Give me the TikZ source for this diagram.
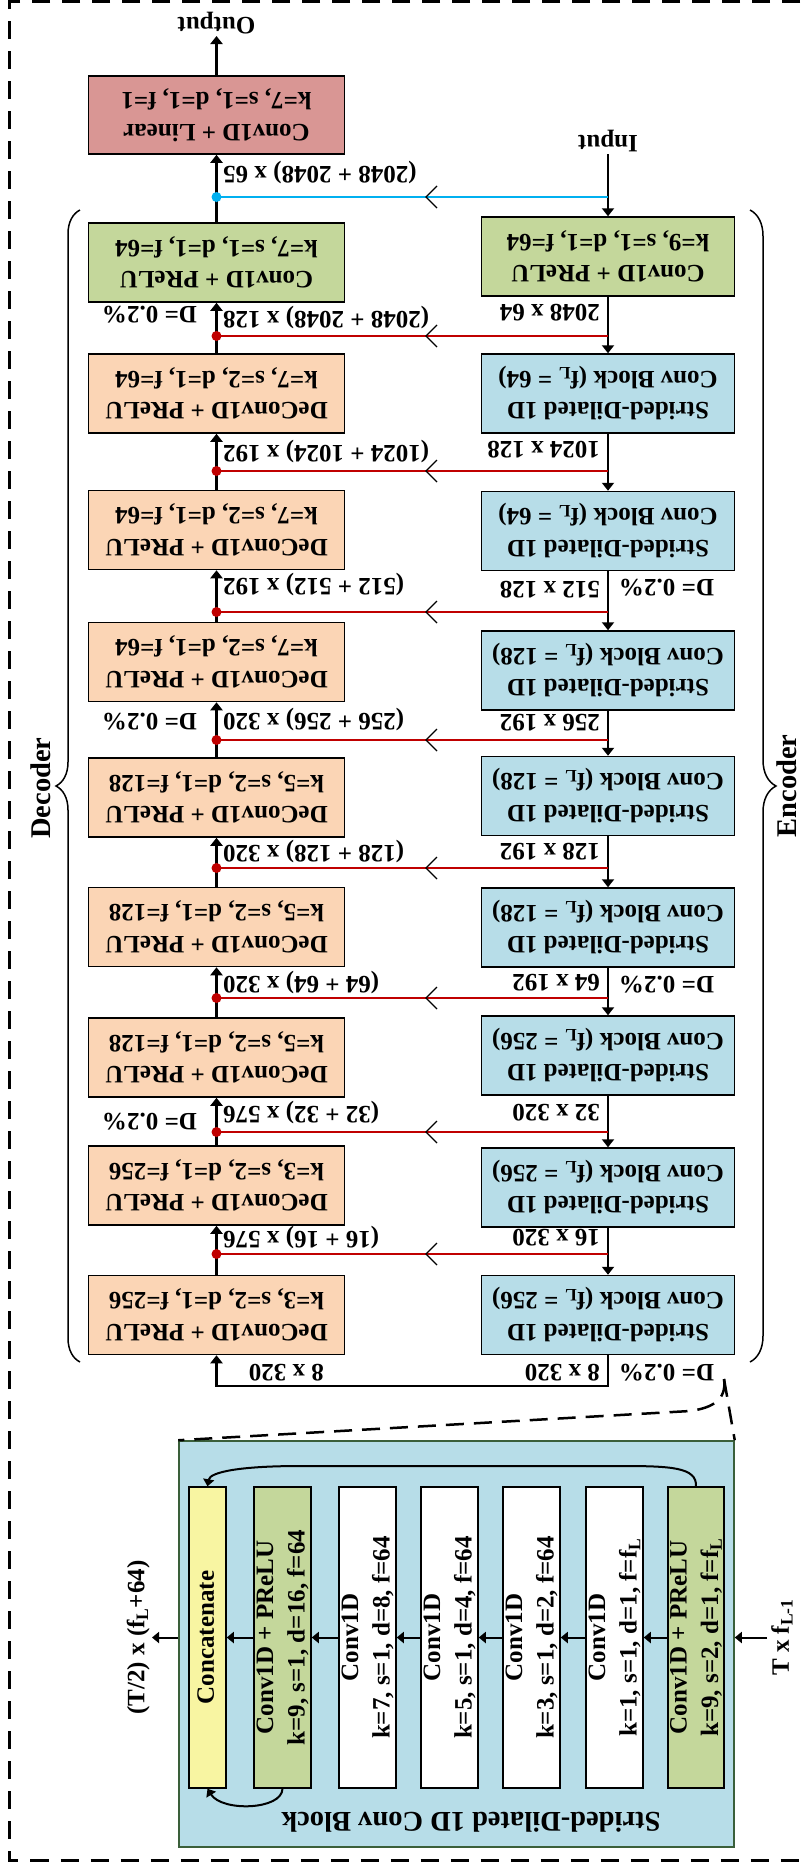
\documentclass[tikz,border=0pt]{standalone}
\usepackage{fontspec}
\setmainfont{Liberation Serif}
\usepackage{graphicx}
\usetikzlibrary{arrows.meta,decorations.pathreplacing}

\definecolor{boxgreen}{HTML}{C4D79B}
\definecolor{boxpeach}{HTML}{FBD5B5}
\definecolor{boxblue}{HTML}{B7DDE8}
\definecolor{boxpink}{HTML}{D99694}
\definecolor{boxyellow}{HTML}{F8F5A2}
\definecolor{skipred}{HTML}{C00000}
\definecolor{skipblue}{HTML}{00B0F0}
\definecolor{blockedge}{HTML}{3A5F3A}

% upside-down two-line box text
\newcommand{\updn}[1]{\rotatebox[origin=c]{180}{\begin{tabular}{@{}c@{}}#1\end{tabular}}}
% upside-down single-line label
\newcommand{\flip}[1]{\rotatebox[origin=c]{180}{#1}}
% text reading upwards, taking no width of its own
\newcommand{\vup}[1]{\makebox[0pt]{\rotatebox[origin=c]{90}{\begin{tabular}{@{}c@{}}#1\end{tabular}}}}
\newcommand{\fLsub}{f\textsubscript{L}}

\begin{document}
\begin{tikzpicture}[x=1pt,y=-1pt,
  font=\fontsize{25}{31.5}\selectfont\bfseries,
  layer/.style={draw=black, line width=1.5pt, inner sep=0pt, minimum height=79pt},
  declayer/.style={layer, minimum width=256pt},
  enclayer/.style={layer, minimum width=253pt},
  lbl/.style={inner sep=0pt},
  flow/.style={line width=2.2pt, -{Triangle[length=8pt,width=12pt]}},
  flowsm/.style={line width=2pt, -{Triangle[length=7pt,width=11pt]}},
  skipline/.style={line width=2.8pt, draw=skipred},
  skipdot/.style={circle, fill=skipred, inner sep=0pt, minimum size=10pt},
  frame/.style={line width=3pt, dash pattern=on 18pt off 12pt},
  zoomline/.style={line width=2.5pt, dash pattern=on 18pt off 10pt},
  vcol/.style={draw=black, line width=1.5pt, inner sep=0pt, minimum height=301pt},
  bigfont/.style={font=\fontsize{28.5}{34}\selectfont\bfseries},
  chevron/.pic={\draw[line width=1.1pt] (11,-11) -- (0,0) -- (11,11);},
]
\useasboundingbox (0,0) rectangle (806,1863);

% outer dashed frame
\draw[frame] (830,1.5) -- (9.5,1.5) -- (9.5,1860) -- (830,1860);

% ---------------- encoder column ----------------
\node[enclayer, fill=boxgreen] (e1) at (608,256.5) {\updn{Conv1D + PReLU\\k=9, s=1, d=1, f=64}};
\foreach \i/\y/\f in {2/393.5/64,3/531/64,4/670.5/128,5/796/128,6/927.5/128,7/1055.5/256,8/1187.5/256,9/1315/256}
  \node[enclayer, fill=boxblue] (e\i) at (608,\y) {\updn{Strided-Dilated 1D\\Conv Block (\fLsub{} = \f)}};

% ---------------- decoder column ----------------
\node[declayer, fill=boxgreen] (d1) at (216.5,262.5) {\updn{Conv1D + PReLU\\k=7, s=1, d=1, f=64}};
\foreach \i/\y/\k/\f in {2/393.5/7/64,3/530/7/64,4/662/7/64,5/797.5/5/128,6/927/5/128,7/1057.5/5/128,8/1185.5/3/256,9/1315/3/256}
  \node[declayer, fill=boxpeach] (d\i) at (216.5,\y) {\updn{DeConv1D + PReLU\\k=\k, s=2, d=1, f=\f}};
\node[declayer, fill=boxpink, minimum height=78pt] (head) at (216.5,115) {\updn{Conv1D + Linear\\k=7, s=1, d=1, f=1}};

% input / output
\node[lbl, inner sep=2pt, anchor=south] (out) at (216.5,36) {\flip{Output}};
\node[lbl, inner sep=2pt, anchor=south] (in) at (608,154) {\flip{Input}};

% main flow
\foreach \a/\b in {1/2,2/3,3/4,4/5,5/6,6/7,7/8,8/9} {
  \draw[flow] (e\a.south) -- (e\b.north);
  \draw[flow] (d\b.north) -- (d\a.south);
}
\draw[flow] (in.south) -- (e1.north);
\draw[flow] (d1.north) -- (head.south);
\draw[flow] (head.north) -- (out.south);
\coordinate (turn) at (608,1386);
\draw[flow] (e9.south) -- (turn) -- (turn -| d9.south) -- (d9.south);

% skip connections
\draw[skipline, draw=skipblue] (in.south |- 0,197) -- (d1.north |- 0,197) node[skipdot, fill=skipblue] (bdot) {};
\pic (bchev) at (426,197) {chevron};
\foreach \a/\y in {1/336,2/471,3/612,4/740,5/868,6/998,7/1132,8/1254} {
  \draw[skipline] (e\a.south |- 0,\y) -- (d\a.south |- 0,\y) node[skipdot] (rdot\a) {};
  \pic (rchev\a) at (426,\y) {chevron};
}

% tensor sizes
\node[lbl, anchor=west] (bdim) at (223,173) {\flip{(2048 + 2048) x 65}};
\foreach \y/\t [count=\n] in {313/2048 x 64,450/1024 x 128,590/512 x 128,723/256 x 192,852/128 x 192,983/64 x 192,1113/32 x 320,1238/16 x 320,1373/8 x 320}
  \node[lbl, anchor=east] (edim\n) at (600,\y) {\flip{\t}};
\foreach \y/\t [count=\n] in {318/(2048 + 2048) x 128,452/(1024 + 1024) x 192,585/(512 + 512) x 192,720/(256 + 256) x 320,852/(128 + 128) x 320,982/(64 + 64) x 320,1112/(32 + 32) x 576,1237/(16 + 16) x 576}
  \node[lbl, anchor=west] (ddim\n) at (223,\y) {\flip{\t}};
\node[lbl, anchor=east] (ddim9) at (324,1373) {\flip{8 x 320}};
\foreach \y [count=\n] in {588,985,1373}
  \node[lbl, anchor=west] (edrop\n) at (619,\y) {\flip{D= 0.2\%}};
\foreach \y [count=\n] in {315,722,1122}
  \node[lbl, anchor=east] (ddrop\n) at (197,\y) {\flip{D= 0.2\%}};

% braces
\draw[line width=1.5pt, decorate, decoration={brace, amplitude=24pt}] (80,1362) -- (80,210);
\draw[line width=1.5pt, decorate, decoration={brace, amplitude=26pt}] (750,210) -- (750,1362);
\node[bigfont, rotate=90] (declbl) at (41,788) {Decoder};
\node[bigfont, rotate=90] (enclbl) at (787,786) {Encoder};

% ---------------- conv block detail ----------------
\node[draw=blockedge, line width=1.5pt, fill=boxblue, minimum width=555pt, minimum height=406pt, inner sep=0pt] (blk) at (456.5,1644) {};
\node[bigfont, inner sep=0pt] (blktitle) at (471,1822) {\flip{Strided-Dilated 1D Conv Block}};

\node[vcol, fill=boxyellow, minimum width=37pt] (cat) at (207.5,1637.5) {\vup{Concatenate}};
\node[vcol, fill=boxgreen, minimum width=57pt] (g2) at (282.5,1637.5) {\vup{Conv1D + PReLU\\k=9, s=1, d=16, f=64}};
\node[vcol, fill=white, minimum width=57pt] (w7) at (367.5,1637.5) {\vup{Conv1D\\k=7, s=1, d=8, f=64}};
\node[vcol, fill=white, minimum width=57pt] (w5) at (449.5,1637.5) {\vup{Conv1D\\k=5, s=1, d=4, f=64}};
\node[vcol, fill=white, minimum width=57pt] (w3) at (531.5,1637.5) {\vup{Conv1D\\k=3, s=1, d=2, f=64}};
\node[vcol, fill=white, minimum width=57pt] (w1) at (614.5,1637.5) {\vup{Conv1D\\k=1, s=1, d=1, f=\fLsub}};
\node[vcol, fill=boxgreen, minimum width=56pt] (g1) at (696,1637.5) {\vup{Conv1D + PReLU\\k=9, s=2, d=1, f=\fLsub}};

\draw[flowsm] (g1.west) -- (w1.east);
\draw[flowsm] (w1.west) -- (w3.east);
\draw[flowsm] (w3.west) -- (w5.east);
\draw[flowsm] (w5.west) -- (w7.east);
\draw[flowsm] (w7.west) -- (g2.east);
\draw[flowsm] (g2.west) -- (cat.east);

\coordinate (tin) at (767,1637.5);
\coordinate (tout) at (152,1637.5);
\draw[flowsm] (tin) -- (tin -| blk.east);
\draw[flowsm] (tout -| blk.west) -- (tout);
\node[lbl, anchor=east] (outdim) at (150,1637.5) {\rotatebox[origin=c]{90}{(T/2) x (\fLsub+64)}};
\node[lbl, anchor=west] (indim) at (771,1637.5) {\rotatebox[origin=c]{90}{T x f\textsubscript{L-1}}};

% bypass arcs into the concatenation
\draw[flowsm] (g1.north) .. controls (697,1467) and (670,1466) .. (620,1466) -- (300,1466) .. controls (240,1466) and (210,1472) .. (cat.north);
\draw[flowsm] (g2.south) .. controls (282,1810) and (222,1812) .. (cat.south);

% zoom lines from the encoder to the detail
\coordinate (zs) at (724,1379);
\draw[zoomline] (zs) .. controls (727,1400) and (712,1408) .. (690,1411) -- (blk.north west);
\draw[zoomline] (zs) -- (blk.north east);
\end{tikzpicture}
\end{document}
